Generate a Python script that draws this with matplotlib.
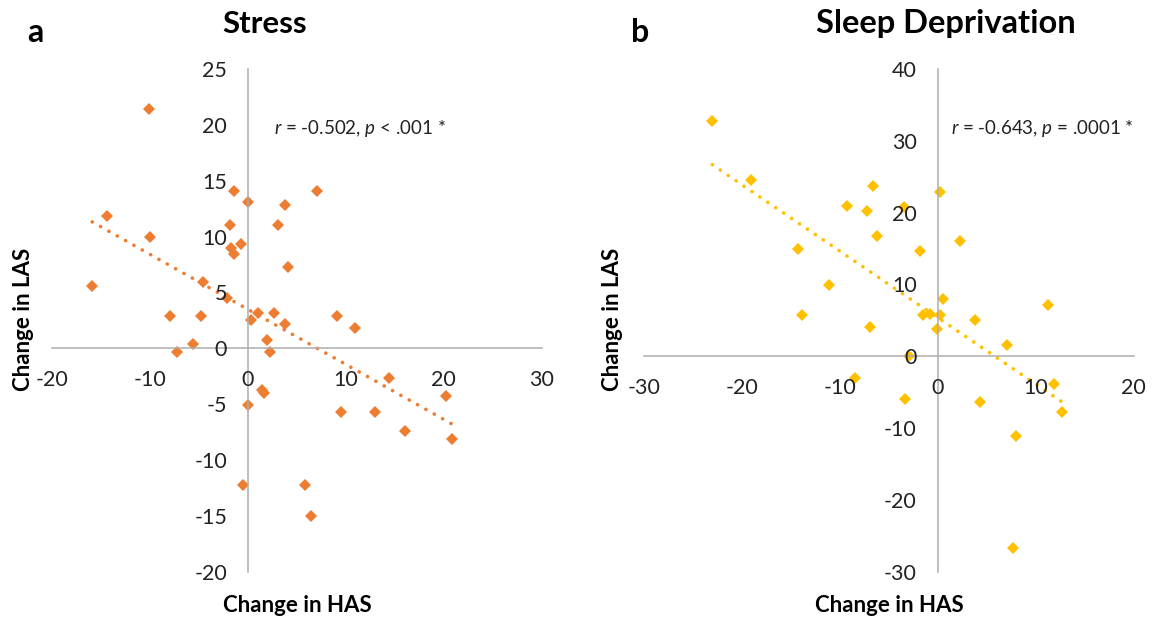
import numpy as np
import matplotlib
matplotlib.use("Agg")
import matplotlib.pyplot as plt

plt.rcParams['font.family'] = ['Lato', 'DejaVu Sans']
plt.rcParams['axes.unicode_minus'] = False
plt.rcParams['mathtext.fontset'] = 'custom'
plt.rcParams['mathtext.rm'] = 'Lato'
plt.rcParams['mathtext.it'] = 'Lato:italic'

# panel a: stress
stress_has = [-10.1, -1.4, 0.0, 7.1, 3.8, -14.4, -10.0, -1.8, 3.1, -1.7,
              -0.7, -1.4, 4.1, -15.9, -4.6, -2.1, -8.0, -4.8, 1.0, 2.7,
              0.3, 3.8, 9.1, 10.9, -5.6, -7.2, 2.0, 2.3, 1.4, 1.7,
              14.4, 20.2, 0.0, 9.5, 13.0, 16.1, 20.8, -0.5, 5.8, 6.5]
stress_las = [21.4, 14.1, 13.1, 14.1, 12.8, 11.8, 10.0, 11.0, 11.0, 9.0,
              9.3, 8.4, 7.3, 5.6, 5.9, 4.5, 2.9, 2.9, 3.2, 3.2,
              2.5, 2.2, 2.9, 1.8, 0.4, -0.3, 0.7, -0.3, -3.7, -4.0,
              -2.7, -4.3, -5.1, -5.7, -5.7, -7.4, -8.1, -12.2, -12.2, -15.0]

# panel b: sleep deprivation
sleep_has = [-23.0, -19.1, -6.6, 0.2, -9.3, -7.2, -3.4, -6.2, 2.3, -14.3,
             -1.8, -11.1, 0.5, 11.3, -13.8, -6.9, -1.5, -0.8, 0.2, -0.1,
             3.8, 7.1, -2.9, -8.4, -3.3, 4.3, 11.9, 12.7, 8.0, 7.7]
sleep_las = [32.8, 24.5, 23.7, 22.9, 20.9, 20.2, 20.8, 16.7, 16.0, 15.0,
             14.7, 9.9, 8.0, 7.2, 5.7, 4.1, 5.7, 5.9, 5.7, 3.8,
             5.0, 1.6, 0.0, -3.0, -6.0, -6.3, -3.8, -7.7, -11.1, -26.7]

stats_a = "$r$ = -0.502, $p$ < .001 *"
stats_b = "$r$ = -0.643, $p$ = .0001 *"

W, H = 1160, 620
fig = plt.figure(figsize=(W / 100, H / 100), dpi=100)


def px(x, y):
    return x / W, 1 - y / H


def panel(rect, xs, ys, color, xlim, ylim, xstep, ystep):
    ax = fig.add_axes(rect)
    ax.set_xlim(*xlim)
    ax.set_ylim(*ylim)
    ax.set_xticks(np.arange(xlim[0], xlim[1] + 1, xstep))
    ax.set_yticks(np.arange(ylim[0], ylim[1] + 1, ystep))
    for s in ['top', 'right']:
        ax.spines[s].set_visible(False)
    ax.spines['left'].set_position(('data', 0))
    ax.spines['bottom'].set_position(('data', 0))
    for s in ['left', 'bottom']:
        ax.spines[s].set_color('#ADADAD')
        ax.spines[s].set_linewidth(1.1)
    ax.tick_params(axis='x', length=0, pad=16, labelsize=15.5, colors='#222222')
    ax.tick_params(axis='y', length=0, pad=15, labelsize=15.5, colors='#222222')
    ax.set_axisbelow(False)
    ax.patch.set_visible(False)

    xs = np.array(xs)
    ys = np.array(ys)
    k, b = np.polyfit(xs, ys, 1)
    xx = np.array([xs.min(), xs.max()])
    ax.plot(xx, k * xx + b, color=color, lw=2.6, linestyle=(0, (0.05, 2.6)),
            dash_capstyle='round', zorder=1.8)
    ax.plot(xs, ys, 'D', color=color, ms=6.2, mew=0, zorder=2)
    return ax


panel([52 / W, 48.3 / H, 489.6 / W, 502.7 / H], stress_has, stress_las,
      '#ED7D31', (-20, 30), (-20, 25), 10, 5)
panel([643.7 / W, 48.3 / H, 490 / W, 502.7 / H], sleep_has, sleep_las,
      '#FFC000', (-30, 20), (-30, 40), 10, 10)

bold = dict(fontweight='bold', color='black')
fig.text(*px(265, 33), "Stress", ha='center', va='baseline', fontsize=22.5, **bold)
fig.text(*px(946, 33), "Sleep Deprivation", ha='center', va='baseline', fontsize=23.5, **bold)
fig.text(*px(27, 42), "a", ha='left', va='baseline', fontsize=23, **bold)
fig.text(*px(631, 42), "b", ha='left', va='baseline', fontsize=23, **bold)

fig.text(*px(297, 612), "Change in HAS", ha='center', va='baseline', fontsize=16, **bold)
fig.text(*px(889, 612), "Change in HAS", ha='center', va='baseline', fontsize=16, **bold)
fig.text(*px(30, 319), "Change in LAS", ha='center', va='baseline', rotation=90,
         rotation_mode='anchor', fontsize=16, **bold)
fig.text(*px(619, 319), "Change in LAS", ha='center', va='baseline', rotation=90,
         rotation_mode='anchor', fontsize=16, **bold)

fig.text(*px(274, 134), stats_a, ha='left', va='baseline', fontsize=13.5, color='#222222')
fig.text(*px(951, 134), stats_b, ha='left', va='baseline', fontsize=13.5, color='#222222')

fig.savefig("out.png", dpi=100, facecolor='white')
